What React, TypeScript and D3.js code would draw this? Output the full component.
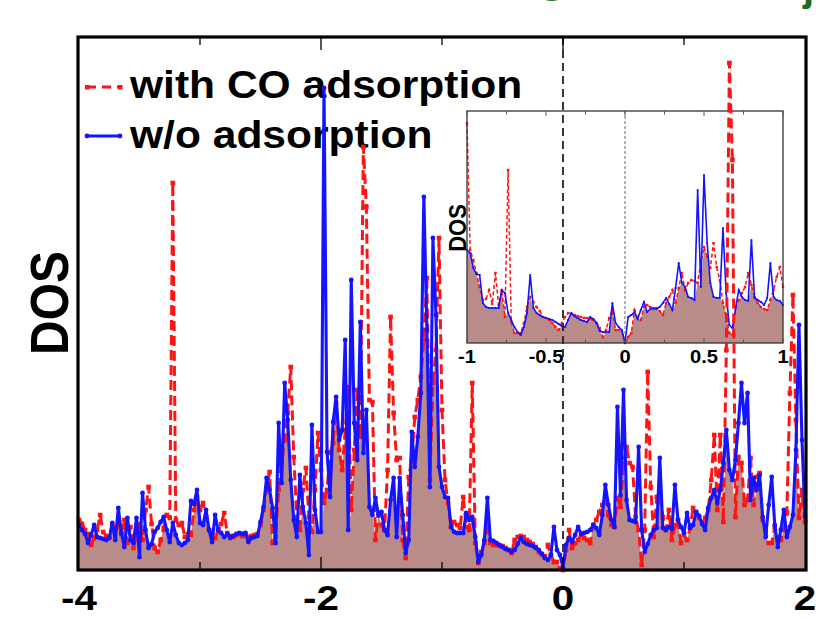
import React from 'react';
import * as d3 from 'd3';

// Main panel: energy grid start/step (eV) and DOS values (arb. units)
const MAIN_E0 = -4;
const MAIN_STEP = 0.025;
const blueMain = [
  4.5, 4.0, 3.6, 2.7, 3.5, 4.5, 3.3, 3.2, 3.1, 3.0, 3.2, 4.7, 3.0, 6.2, 3.7, 2.3, 5.2, 3.0, 2.7, 5.2,
  1.3, 7.7, 4.0, 2.2, 2.6, 3.8, 4.2, 4.8, 5.3, 4.0, 2.8, 4.7, 3.5, 2.7, 2.5, 2.7, 3.0, 6.9, 6.6, 8.0,
  4.7, 4.5, 6.0, 4.0, 2.8, 5.5, 4.0, 3.7, 3.3,
  3.6, 3.2, 3.4, 3.6, 3.7, 3.6, 3.7, 2.8, 3.2, 3.3, 3.4, 4.8, 6.3, 9.2, 8.0, 6.2, 2.7, 14.7, 8.7, 18.7,
  15.0, 9.0, 5.0, 3.3, 9.5, 6.3, 4.7, 1.5, 14.5, 6.0, 3.8, 3.8, 48.2, 11.8, 7.3, 14.8, 17.3, 13.0, 14.0, 23.0,
  4.0, 29.0, 14.7, 11.0, 24.8, 11.7, 16.0, 6.3,
  5.5, 7.2, 5.5, 5.8, 4.0, 3.5, 7.0, 9.2, 3.3, 9.2, 5.5, 1.7, 3.0, 13.8, 10.3, 13.3, 17.7, 37.3, 24.0, 8.3,
  33.2, 25.5, 10.3, 8.3, 7.3, 7.2, 4.3, 3.8, 3.7, 3.7, 3.7, 5.7, 5.0, 5.3, 3.3, 0.8, 1.5, 3.0, 7.2, 3.0,
  2.9, 2.7, 2.5, 2.3, 2.1, 2.0, 1.8,
  2.0, 2.6, 3.2, 2.8, 2.6, 2.5, 2.4, 2.2, 2.0, 1.6, 1.2, 1.0, 1.5, 4.3, 2.0, 1.5, 0.2, 2.5, 3.2, 2.8,
  3.5, 4.3, 3.6, 3.7, 3.8, 4.0, 4.5, 4.2, 3.5, 5.5, 8.5, 6.5, 5.0, 4.3, 16.3, 7.5, 18.0, 7.0, 5.0, 4.9,
  4.8, 12.3, 4.0, 1.8, 2.6, 3.5, 4.0, 4.2, 11.2, 4.2, 4.0, 4.3, 4.1, 8.5, 5.0, 4.3, 3.7, 5.7, 4.2, 4.5,
  5.8, 5.4, 4.6, 4.0, 6.2, 7.2, 8.0, 6.7, 8.0, 10.7, 14.0, 10.0, 9.0, 11.0, 14.7, 18.7, 14.7, 17.7, 7.0, 9.2,
  8.0, 9.5, 5.3, 3.3, 6.5, 9.3, 4.5, 2.3, 4.0, 6.0, 3.3, 4.3, 5.5, 12.0, 24.5, 13.0, 5.3,
];
const redMain = [
  5.0, 4.6, 4.0, 3.6, 2.5, 3.2, 4.0, 5.5, 3.8, 3.4, 3.3, 4.5, 4.2, 4.7, 3.6, 5.0, 2.7, 4.3, 2.2, 3.5,
  4.6, 3.0, 6.0, 8.3, 4.6, 2.2, 1.8, 3.0, 4.2, 5.5, 5.2, 38.7, 5.0, 4.5, 4.7, 3.3, 3.6, 3.5, 6.0, 7.3,
  6.0, 6.7, 5.3, 4.0, 3.6, 3.2, 4.0, 4.6, 5.7,
  3.7, 3.4, 3.3, 3.5, 3.6, 3.4, 3.6, 3.3, 3.4, 3.5, 3.6, 4.5, 6.0, 8.0, 9.8, 2.7, 3.3, 8.0, 10.7, 13.0,
  15.7, 20.3, 11.3, 5.3, 4.0, 8.0, 10.2, 5.3, 3.8, 8.0, 13.7, 10.0, 6.7, 8.0, 11.7, 12.7, 16.7, 12.0, 10.0, 14.0,
  18.3, 6.0, 12.0, 18.0, 13.3, 42.3, 36.3, 17.0,
  16.8, 3.0, 5.7, 4.5, 4.0, 10.0, 25.3, 15.7, 11.0, 11.2, 3.0, 1.2, 9.3, 11.0, 15.3, 17.0, 19.3, 23.0, 29.2, 9.0,
  18.7, 22.0, 33.2, 16.0, 9.0, 6.7, 4.3, 4.8, 4.5, 4.2, 7.3, 4.3, 4.0, 18.7, 2.7, 0.7, 1.8, 2.7, 4.8, 2.7,
  2.5, 2.5, 2.4, 2.4, 2.2, 2.0, 1.7,
  3.0, 3.3, 3.4, 3.3, 3.0, 2.8, 2.6, 2.3, 1.8, 1.6, 1.3, 2.5, 1.5, 0.8, 0.8, 0.2, 0.0, 2.0, 4.0, 2.2,
  2.7, 3.0, 3.6, 3.2, 3.0, 2.7, 4.5, 5.0, 5.8, 6.5, 7.0, 5.5, 4.5, 4.3, 7.2, 6.3, 10.7, 12.3, 10.7, 10.3,
  5.3, 4.0, 0.5, 4.0, 19.8, 8.3, 3.3, 7.3, 7.7, 5.3, 4.0, 6.0, 3.0, 4.5, 5.0, 2.7, 3.5, 3.0, 4.2, 6.2,
  5.8, 5.2, 4.7, 5.2, 6.0, 9.0, 13.5, 6.0, 13.5, 4.8, 22.0, 50.7, 41.0, 5.3, 11.3, 10.7, 6.5, 7.0, 11.2, 6.5,
  9.3, 9.7, 5.0, 3.8, 2.7, 2.7, 4.3, 3.3, 3.0, 4.0, 5.7, 17.7, 27.5, 15.0, 5.2, 8.0, 4.8,
];

// Inset panel: energy grid start/step (eV) and DOS values
const INSET_E0 = -1;
const INSET_STEP = 0.02;
const blueInset = [
  9.3, 9.0, 7.5, 6.9, 6.8, 4.0, 3.6, 3.5, 3.5, 3.5, 3.5, 5.3, 5.0, 3.0, 2.3, 1.6, 1.1, 0.8, 1.6, 3.0,
  6.8, 3.5, 3.0, 2.8, 2.6, 2.5, 2.4, 2.3, 2.1, 1.9, 1.7, 1.6, 2.3, 3.0, 2.7, 2.5, 2.3, 2.2, 2.1, 2.6,
  2.4, 2.0, 1.2, 1.1, 1.1, 1.1, 4.0, 2.0, 1.6, 1.3, 0.0, 2.6, 2.8, 3.1, 2.4, 3.3, 4.1, 3.1, 3.4, 3.5,
  3.4, 3.6, 4.0, 4.5, 3.9, 3.3, 5.5, 8.0, 6.0, 5.6, 4.6, 4.5, 4.3, 15.3, 5.6, 16.8, 10.0, 6.0, 4.6, 4.5,
  4.5, 11.5, 5.0, 1.8, 1.5, 3.5, 5.3, 4.6, 4.3, 4.2, 10.3, 4.5, 4.3, 4.1, 3.8, 4.5, 8.0, 4.6, 4.3, 4.2, 3.8,
];
const redInset = [
  22.0, 9.3, 8.3, 7.0, 5.6, 4.3, 4.4, 5.3, 3.9, 7.0, 3.8, 5.3, 2.6, 17.3, 2.1, 1.0, 1.0, 1.0, 2.0, 3.6,
  4.6, 4.1, 3.6, 3.2, 2.6, 2.5, 2.3, 2.0, 1.6, 1.3, 2.0, 2.6, 3.0, 2.9, 2.8, 2.7, 2.6, 2.5, 2.5, 2.4,
  2.3, 2.0, 1.5, 0.6, 1.3, 2.5, 3.3, 1.3, 1.3, 1.2, 0.0, 0.6, 1.0, 3.3, 2.5, 2.3, 3.6, 3.8, 3.6, 3.4,
  3.5, 3.2, 2.8, 4.0, 4.6, 5.3, 4.0, 5.5, 7.0, 5.3, 6.0, 6.3, 6.2, 6.0, 8.0, 9.6, 8.6, 7.5, 10.0, 7.6,
  6.3, 4.0, 2.6, 1.0, 0.8, 3.6, 4.3, 5.0, 5.6, 7.0, 5.8, 4.6, 4.0, 3.6, 3.4, 3.3, 4.3, 5.3, 6.6, 7.6, 5.6,
];

const mainTicks = [-4, -3, -2, -1, 0, 1, 2];
const mainTickLabels = [-4, -2, 0, 2];
const insetTicks = [-1, -0.75, -0.5, -0.25, 0, 0.25, 0.5, 0.75, 1];
const insetTickLabels = [-1, -0.5, 0, 0.5, 1];
const legendLabels = ['with CO adsorption', 'w/o adsorption'];

type P = { e: number; b: number; r: number };

const RED = '#ff1414';
const BLUE = '#1414ff';
const FILL = '#b98c89';
const FONT = 'Liberation Sans, Arial, Helvetica, sans-serif';
const SX = 1.12;

function Txt(props: { x: number; y: number; size: number; anchor?: string; rotate?: number; children: any; fill?: string; weight?: string | number }) {
  const { x, y, size, anchor = 'start', rotate = 0, children, fill = '#000', weight = 'bold' } = props;
  return (
    <text
      transform={`translate(${x},${y}) scale(${SX},1) rotate(${rotate})`}
      fontFamily={FONT}
      fontWeight={weight as any}
      fontSize={size}
      textAnchor={anchor as any}
      fill={fill}
    >
      {children}
    </text>
  );
}

export default function App() {
  const W = 816;
  const H = 619;
  const x = d3.scaleLinear().domain([-4, 2]).range([79, 805]);
  const y = d3.scaleLinear().domain([0, 53.3]).range([570, 37]);
  const xi = d3.scaleLinear().domain([-1, 1]).range([467, 783]);
  const yi = d3.scaleLinear().domain([0, 23.2]).range([343, 111]);

  const mainPts: P[] = blueMain.map((b, i) => ({ e: MAIN_E0 + i * MAIN_STEP, b, r: redMain[i] ?? b }));
  const insetPts: P[] = blueInset.map((b, i) => ({ e: INSET_E0 + i * INSET_STEP, b, r: redInset[i] ?? b }));

  const mainArea = d3.area<P>().x(d => x(d.e)).y0(y(0)).y1(d => y(Math.min(d.b, d.r)))(mainPts) || '';
  const mainBlue = d3.line<P>().x(d => x(d.e)).y(d => y(d.b))(mainPts) || '';
  const mainRed = d3.line<P>().x(d => x(d.e)).y(d => y(d.r))(mainPts) || '';

  const insArea = d3.area<P>().x(d => xi(d.e)).y0(yi(0)).y1(d => yi(Math.min(d.b, d.r)))(insetPts) || '';
  const insBlue = d3.line<P>().x(d => xi(d.e)).y(d => yi(d.b))(insetPts) || '';
  const insRed = d3.line<P>().x(d => xi(d.e)).y(d => yi(d.r))(insetPts) || '';

  const [x0, x1] = x.range();
  const [yb, yt] = y.range();
  const [ix0, ix1] = xi.range();
  const [iyb, iyt] = yi.range();

  return (
    <svg width={W} height={H} viewBox={`0 0 ${W} ${H}`} style={{ position: 'absolute', left: 0, top: 0, background: '#fff' }}>
      <rect x={0} y={0} width={W} height={H} fill="#fff" />
      {/* cropped title remnants */}
      <text x={536} y={-11} fontFamily={FONT} fontSize={58} fill="#1f6a1f">g</text>
      <text x={803} y={1} fontFamily={FONT} fontWeight="bold" fontSize={40} fill="#1f6a1f">j</text>

      {/* main fill */}
      <path d={mainArea} fill={FILL} stroke="none" />

      {/* inset */}
      <g>
        <rect x={ix0} y={iyt} width={ix1 - ix0} height={iyb - iyt} fill="#fff" />
        <path d={insArea} fill={FILL} stroke="none" />
        <line x1={xi(0)} x2={xi(0)} y1={iyt} y2={iyb} stroke="#666" strokeWidth={1} strokeDasharray="3,2" />
        <path d={insRed} fill="none" stroke={RED} strokeWidth={1.5} strokeDasharray="4,2.5" />
        {insetPts.map((d, i) => (
          <rect key={'ir' + i} x={xi(d.e) - 1.2} y={yi(d.r) - 1.2} width={2.4} height={2.4} fill={RED} />
        ))}
        <path d={insBlue} fill="none" stroke={BLUE} strokeWidth={1.6} />
        {insetPts.map((d, i) => (
          <circle key={'ib' + i} cx={xi(d.e)} cy={yi(d.b)} r={1.1} fill={BLUE} />
        ))}
        <rect x={ix0} y={iyt} width={ix1 - ix0} height={iyb - iyt} fill="none" stroke="#333" strokeWidth={1.3} />
        {insetTicks.map(t => {
          const major = insetTickLabels.includes(t);
          const len = major ? 5 : 3.5;
          return (
            <g key={'it' + t}>
              <line x1={xi(t)} x2={xi(t)} y1={iyb} y2={iyb - len} stroke="#555" strokeWidth={1} />
              <line x1={xi(t)} x2={xi(t)} y1={iyt} y2={iyt + len} stroke="#555" strokeWidth={1} />
            </g>
          );
        })}
        {insetTickLabels.map(t => (
          <Txt key={'il' + t} x={xi(t)} y={363} size={18} anchor="middle">{String(t)}</Txt>
        ))}
        <Txt x={466} y={228} size={22} anchor="middle" rotate={-90}>DOS</Txt>
      </g>

      {/* legend */}
      <g>
        <line x1={87} x2={120} y1={87} y2={87} stroke={RED} strokeWidth={3} strokeDasharray="9,6" />
        <rect x={85} y={85} width={4.5} height={4.5} fill={RED} />
        <rect x={118} y={85} width={4.5} height={4.5} fill={RED} />
        <Txt x={130} y={98} size={38}>{legendLabels[0]}</Txt>
        <line x1={87} x2={120} y1={136} y2={136} stroke={BLUE} strokeWidth={3} />
        <circle cx={87} cy={136} r={2.4} fill={BLUE} />
        <circle cx={120} cy={136} r={2.4} fill={BLUE} />
        <Txt x={130} y={148} size={38}>{legendLabels[1]}</Txt>
      </g>

      {/* Fermi level */}
      <line x1={x(0)} x2={x(0)} y1={yt} y2={yb} stroke="#222" strokeWidth={1.8} strokeDasharray="8,5" />

      {/* main series */}
      <path d={mainRed} fill="none" stroke={RED} strokeWidth={3} strokeDasharray="10,5" strokeLinejoin="round" />
      {mainPts.map((d, i) => (
        <rect key={'mr' + i} x={x(d.e) - 2.3} y={y(d.r) - 2.3} width={4.6} height={4.6} fill={RED} />
      ))}
      <path d={mainBlue} fill="none" stroke={BLUE} strokeWidth={3.1} strokeLinejoin="round" />
      {mainPts.map((d, i) => (
        <circle key={'mb' + i} cx={x(d.e)} cy={y(d.b)} r={2.4} fill={BLUE} />
      ))}

      {/* frame and ticks */}
      <rect x={x0 - 1} y={yt} width={x1 - x0 + 2} height={yb - yt} fill="none" stroke="#000" strokeWidth={3.2} />
      {mainTicks.slice(1, -1).map(t => {
        const major = mainTickLabels.includes(t);
        const len = major ? 13 : 8;
        return (
          <g key={'mt' + t}>
            <line x1={x(t)} x2={x(t)} y1={yb} y2={yb - len} stroke="#000" strokeWidth={1.3} />
            <line x1={x(t)} x2={x(t)} y1={yt} y2={yt + len} stroke="#000" strokeWidth={1.3} />
          </g>
        );
      })}
      {mainTickLabels.map(t => (
        <Txt key={'ml' + t} x={x(t)} y={610} size={36} anchor="middle">{String(t)}</Txt>
      ))}
      <Txt x={68} y={303} size={48} anchor="middle" rotate={-90}>DOS</Txt>
    </svg>
  );
}
